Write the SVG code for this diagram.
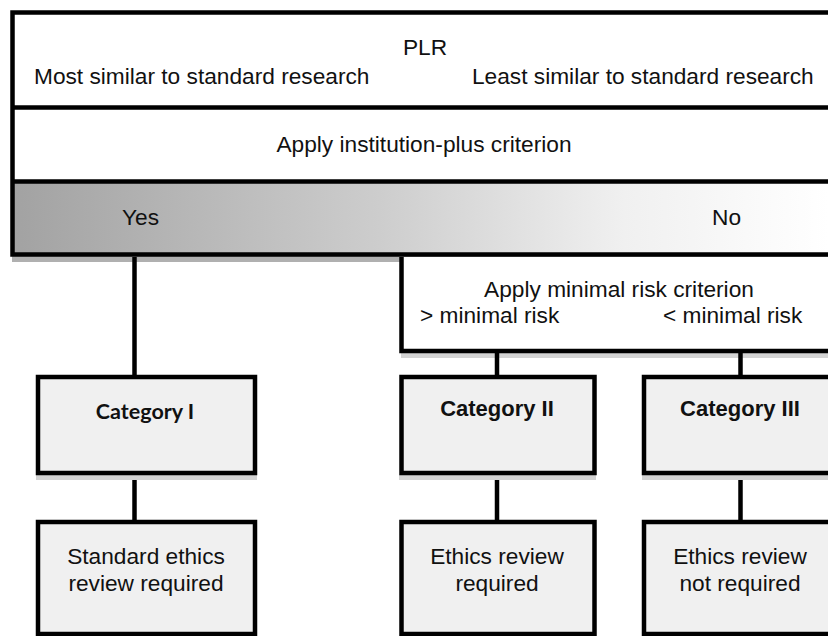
<svg xmlns="http://www.w3.org/2000/svg" width="828" height="636" viewBox="0 0 828 636">
<defs>
<linearGradient id="band" x1="12" y1="0" x2="828" y2="0" gradientUnits="userSpaceOnUse">
<stop offset="0" stop-color="#a2a2a2"/>
<stop offset="0.45" stop-color="#cdcdcd"/>
<stop offset="0.75" stop-color="#f0f0f0"/>
<stop offset="1" stop-color="#ffffff"/>
</linearGradient>
<style>
.t{font-family:"Liberation Sans",Arial,sans-serif;font-size:22.7px;fill:#111}
.c{text-anchor:middle}
.b{font-family:"Liberation Sans",Arial,sans-serif;font-size:22px;font-weight:bold;fill:#111;text-anchor:middle}
.cal{font-family:Lato,"Liberation Sans",sans-serif;font-size:21.5px;font-weight:bold;fill:#111;text-anchor:middle}
.frame{fill:none;stroke:#000;stroke-width:4.5}
.box{fill:#f0f0f0;stroke:#000;stroke-width:4.5}
.shadow{fill:#d3d3d3}
.conn{stroke:#000;stroke-width:4.5;fill:none}
</style>
</defs>
<rect width="828" height="636" fill="#fff"/>

<g id="plr">
<rect x="12" y="256" width="830" height="6" fill="#b0b0b0"/>
<rect x="12.5" y="12.5" width="830" height="242" fill="#fff"/>
<rect x="12.5" y="181.5" width="830" height="73" fill="url(#band)"/>
<rect x="12.5" y="12.5" width="830" height="242" class="frame"/>
<line x1="12.5" y1="107.5" x2="842" y2="107.5" class="conn"/>
<line x1="12.5" y1="181.5" x2="842" y2="181.5" class="conn"/>
<text class="t c" x="425" y="55">PLR</text>
<text class="t" x="34" y="84">Most similar to standard research</text>
<text class="t" x="472" y="84">Least similar to standard research</text>
</g>
<g id="institution">
<text class="t c" x="424" y="152">Apply institution-plus criterion</text>
</g>
<g id="yes"><text class="t" x="122" y="225">Yes</text></g>
<g id="no"><text class="t" x="712" y="225">No</text></g>

<g id="minimal">
<rect x="401" y="353" width="440" height="5" class="shadow"/>
<rect x="401.5" y="257" width="440" height="94" fill="#fff"/>
<path d="M401.5 257 V351 H842" class="conn"/>
<text class="t c" x="619" y="297">Apply minimal risk criterion</text>
<text class="t" x="420" y="323">&gt; minimal risk</text>
<text class="t" x="663" y="323">&lt; minimal risk</text>
</g>

<g id="connectors">
<line x1="134.5" y1="257" x2="134.5" y2="377" class="conn"/>
<line x1="134.5" y1="473" x2="134.5" y2="522" class="conn"/>
<line x1="497" y1="351" x2="497" y2="377" class="conn"/>
<line x1="497" y1="473" x2="497" y2="522" class="conn"/>
<line x1="740.5" y1="351" x2="740.5" y2="377" class="conn"/>
<line x1="740.5" y1="473" x2="740.5" y2="522" class="conn"/>
</g>

<g id="cat1">
<rect x="36" y="475" width="221" height="5" class="shadow"/>
<rect x="38" y="377" width="217" height="96" class="box"/>
<text class="cal" x="145" y="419">Category I</text>
</g>
<g id="cat2">
<rect x="399" y="475" width="197" height="5" class="shadow"/>
<rect x="401.5" y="377" width="193" height="96" class="box"/>
<text class="b" x="497" y="416">Category II</text>
</g>
<g id="cat3">
<rect x="642" y="475" width="200" height="5" class="shadow"/>
<rect x="644" y="377" width="200" height="96" class="box"/>
<text class="b" x="740" y="416">Category III</text>
</g>

<g id="out1">
<rect x="38" y="522" width="217" height="112" class="box"/>
<text class="t c" x="146" y="564">Standard ethics</text>
<text class="t c" x="146" y="591">review required</text>
</g>
<g id="out2">
<rect x="401.5" y="522" width="193" height="112" class="box"/>
<text class="t c" x="497" y="564">Ethics review</text>
<text class="t c" x="497" y="591">required</text>
</g>
<g id="out3">
<rect x="644" y="522" width="200" height="112" class="box"/>
<text class="t c" x="740" y="564">Ethics review</text>
<text class="t c" x="740" y="591">not required</text>
</g>
</svg>
